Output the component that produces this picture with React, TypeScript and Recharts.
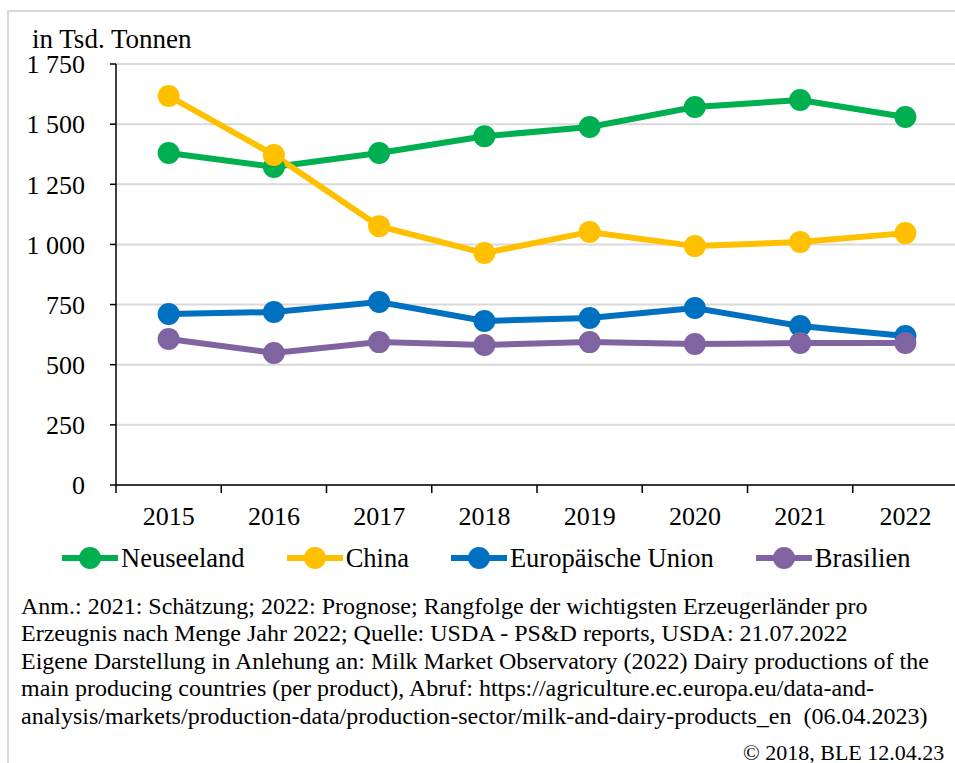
import React from "react";
import { LineChart, Line, XAxis, YAxis, CartesianGrid, Legend } from "recharts";

const years = ["2015", "2016", "2017", "2018", "2019", "2020", "2021", "2022"];
const neuseeland = [1380, 1322, 1380, 1450, 1488, 1571, 1600, 1530];
const china = [1617, 1372, 1076, 964, 1052, 993, 1010, 1047];
const eu = [711, 719, 761, 682, 694, 736, 661, 619];
const brasilien = [607, 549, 594, 582, 594, 586, 590, 590];
const yTicks = [0, 250, 500, 750, 1000, 1250, 1500, 1750];

const seriesInfo = [
  { key: "neuseeland", name: "Neuseeland", color: "#00B050" },
  { key: "china", name: "China", color: "#FFC000" },
  { key: "eu", name: "Europäische Union", color: "#0070C0" },
  { key: "brasilien", name: "Brasilien", color: "#8064A2" },
];

const notes = [
  "Anm.: 2021: Schätzung; 2022: Prognose; Rangfolge der wichtigsten Erzeugerländer pro",
  "Erzeugnis nach Menge Jahr 2022; Quelle: USDA - PS&D reports, USDA: 21.07.2022",
  "Eigene Darstellung in Anlehung an: Milk Market Observatory (2022) Dairy productions of the",
  "main producing countries (per product), Abruf: https://agriculture.ec.europa.eu/data-and-",
  "analysis/markets/production-data/production-sector/milk-and-dairy-products_en  (06.04.2023)",
];

const data = years.map((year, i) => ({
  year,
  neuseeland: neuseeland[i],
  china: china[i],
  eu: eu[i],
  brasilien: brasilien[i],
}));

const FONT = '"Liberation Serif", "Times New Roman", serif';
const CHART_W = 970;
const PLOT_LEFT = 116;
const PLOT_TOP = 64;
const PLOT_BOTTOM = 485;
const MARGIN_RIGHT = 12;
const BAND = (CHART_W - MARGIN_RIGHT - PLOT_LEFT) / years.length;

const fmt = (v: number) =>
  v >= 1000 ? `${Math.floor(v / 1000)} ${String(v % 1000).padStart(3, "0")}` : String(v);

const XTick = (props: any) => {
  const { x, payload, index } = props;
  return (
    <g>
      <line x1={x - BAND / 2} x2={x - BAND / 2} y1={PLOT_BOTTOM} y2={PLOT_BOTTOM + 8} stroke="#000" strokeWidth={1.5} />
      {index === years.length - 1 && (
        <line x1={x + BAND / 2} x2={x + BAND / 2} y1={PLOT_BOTTOM} y2={PLOT_BOTTOM + 8} stroke="#000" strokeWidth={1.5} />
      )}
      <text x={x} y={PLOT_BOTTOM + 40} textAnchor="middle" fill="#000" fontSize={26} fontFamily={FONT}>
        {payload.value}
      </text>
    </g>
  );
};

const LegendContent = () => (
  <div
    style={{
      display: "flex",
      paddingLeft: 62,
      paddingTop: 3,
      fontFamily: FONT,
      fontSize: 26.5,
      color: "#000",
      lineHeight: "30px",
    }}
  >
    {seriesInfo.map((s) => (
      <div key={s.key} style={{ display: "flex", alignItems: "center", marginRight: 42 }}>
        <svg width={57} height={24} style={{ marginRight: 2 }}>
          <line x1={0} x2={56} y1={12} y2={12} stroke={s.color} strokeWidth={6} />
          <circle cx={28} cy={12} r={11} fill={s.color} />
        </svg>
        <span>{s.name}</span>
      </div>
    ))}
  </div>
);

export default function App() {
  return (
    <div
      style={{
        position: "absolute",
        left: 0,
        top: 0,
        width: 955,
        height: 763,
        overflow: "hidden",
        background: "#fff",
        fontFamily: FONT,
      }}
    >
      <div
        style={{
          position: "absolute",
          left: 7,
          top: 10,
          width: 1000,
          height: 800,
          border: "2px solid #d9d9d9",
        }}
      />
      <div style={{ position: "absolute", left: 32, top: 24, fontSize: 27, lineHeight: "30px", color: "#000" }}>
        in Tsd. Tonnen
      </div>
      <div style={{ position: "absolute", left: 0, top: 0 }}>
        <LineChart
          width={CHART_W}
          height={583}
          data={data}
          margin={{ top: PLOT_TOP, right: MARGIN_RIGHT, bottom: 0, left: 0 }}
        >
          <CartesianGrid vertical={false} stroke="#d9d9d9" strokeWidth={2} />
          <XAxis
            dataKey="year"
            height={55}
            padding={{ left: BAND / 2, right: BAND / 2 }}
            axisLine={{ stroke: "#000", strokeWidth: 1.5 }}
            tickLine={false}
            tick={<XTick />}
            interval={0}
          />
          <YAxis
            width={PLOT_LEFT}
            domain={[0, 1750]}
            ticks={yTicks}
            tickFormatter={fmt}
            axisLine={{ stroke: "#000", strokeWidth: 1.5 }}
            tickLine={{ stroke: "#000", strokeWidth: 1.5 }}
            tickSize={6}
            tickMargin={25}
            tick={{ fill: "#000", fontSize: 26, fontFamily: FONT }}
          />
          <Legend verticalAlign="bottom" height={43} content={<LegendContent />} />
          {seriesInfo.map((s) => (
            <Line
              key={s.key}
              dataKey={s.key}
              name={s.name}
              stroke={s.color}
              strokeWidth={6}
              dot={{ r: 11, fill: s.color, stroke: "none" }}
              activeDot={false}
              isAnimationActive={false}
            />
          ))}
        </LineChart>
      </div>
      <div
        style={{
          position: "absolute",
          left: 21,
          top: 593,
          fontSize: 24,
          lineHeight: "27.4px",
          color: "#000",
          whiteSpace: "pre",
        }}
      >
        {notes.join("\n")}
      </div>
      <div
        style={{
          position: "absolute",
          left: 743,
          top: 740,
          fontSize: 22,
          lineHeight: "26px",
          color: "#000",
          whiteSpace: "nowrap",
        }}
      >
        © 2018, BLE 12.04.23
      </div>
    </div>
  );
}
